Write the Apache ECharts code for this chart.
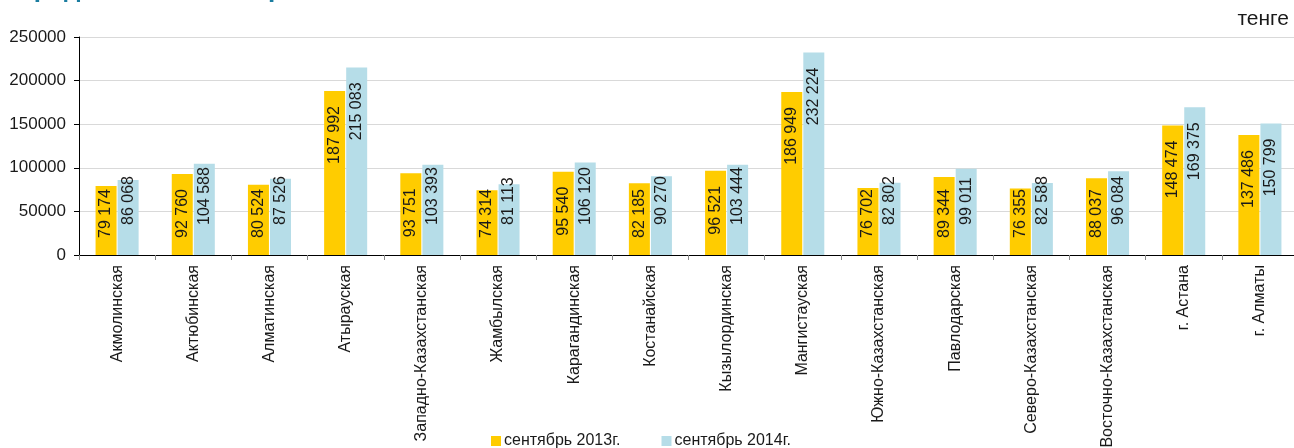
<!DOCTYPE html>
<html>
<head>
<meta charset="utf-8">
<script src="https://cdn.jsdelivr.net/npm/echarts@6/dist/echarts.min.js"></script>
<style>
html, body { margin: 0; padding: 0; background: #fff; }
#chart { width: 1294px; height: 448px; }
</style>
</head>
<body>
<div id="chart"></div>
<script>
var regions = ['Акмолинская', 'Актюбинская', 'Алматинская', 'Атырауская', 'Западно-Казахстанская',
    'Жамбылская', 'Карагандинская', 'Костанайская', 'Кызылординская', 'Мангистауская',
    'Южно-Казахстанская', 'Павлодарская', 'Северо-Казахстанская', 'Восточно-Казахстанская',
    'г. Астана', 'г. Алматы'];
var sep2013 = [79174, 92760, 80524, 187992, 93751, 74314, 95540, 82185, 96521, 186949,
    76702, 89344, 76355, 88037, 148474, 137486];
var sep2014 = [86068, 104588, 87526, 215083, 103393, 81113, 106120, 90270, 103444, 232224,
    82802, 99011, 82588, 96084, 169375, 150799];
var seriesNames = ['сентябрь 2013г.', 'сентябрь 2014г.'];
var yTicks = [0, 50000, 100000, 150000, 200000, 250000];

var FONT = '"Liberation Sans", Arial, sans-serif';

function fmt(v) {
    return String(v).replace(/\B(?=(\d{3})+(?!\d))/g, ' ');
}

var myChart = echarts.init(document.getElementById('chart'), null, {renderer: 'canvas'});

function barLabel() {
    return {
        show: true,
        position: 'insideTop',
        distance: 15,
        rotate: 90,
        align: 'right',
        verticalAlign: 'middle',
        color: '#1a1a1a',
        fontSize: 16,
        fontFamily: FONT,
        formatter: function (p) { return fmt(p.value); }
    };
}

var option = {
    animation: false,
    title: [
        {
            text: 'Среднемесячная заработная плата',
            left: 10,
            top: -28,
            textStyle: {color: '#1b7da0', fontSize: 26, fontWeight: 'bold', fontFamily: FONT}
        },
        {
            text: 'тенге',
            right: 0,
            top: 4,
            textStyle: {color: '#1a1a1a', fontSize: 21, fontWeight: 'normal', fontFamily: FONT}
        }
    ],
    legend: {
        data: seriesNames,
        left: 486,
        top: 428,
        itemWidth: 10,
        itemHeight: 10,
        itemGap: 41,
        icon: 'rect',
        textStyle: {color: '#1a1a1a', fontSize: 16, fontFamily: FONT, padding: [0, 0, 0, -2]}
    },
    grid: {
        left: 79,
        top: 37,
        width: 1219,
        height: 218,
        containLabel: false,
        outerBoundsMode: 'none'
    },
    xAxis: {
        type: 'category',
        data: regions,
        axisLine: {lineStyle: {color: '#000', width: 1}},
        axisTick: {show: true, length: 5, lineStyle: {color: '#888'}},
        axisLabel: {
            rotate: 90,
            margin: 10,
            interval: 0,
            color: '#1a1a1a',
            fontSize: 16,
            fontFamily: FONT
        }
    },
    yAxis: {
        type: 'value',
        min: yTicks[0],
        max: yTicks[yTicks.length - 1],
        interval: yTicks[1] - yTicks[0],
        axisLine: {show: true, lineStyle: {color: '#000', width: 1}},
        axisTick: {show: true, length: 5, lineStyle: {color: '#000'}},
        splitLine: {lineStyle: {color: '#d9d9d9', width: 1}},
        axisLabel: {
            margin: 13,
            color: '#1a1a1a',
            fontSize: 17,
            fontFamily: FONT,
            formatter: function (v) { return String(v); }
        }
    },
    series: [
        {
            name: seriesNames[0],
            type: 'bar',
            barWidth: 21,
            barGap: '5%',
            itemStyle: {color: '#ffcc00'},
            label: barLabel(),
            data: sep2013
        },
        {
            name: seriesNames[1],
            type: 'bar',
            barWidth: 21,
            barGap: '5%',
            itemStyle: {color: '#b6dde8'},
            label: barLabel(),
            data: sep2014
        }
    ]
};

myChart.setOption(option);

// labels sit near the top of a bar, but a short bar pins them near the base
var ctx = document.createElement('canvas').getContext('2d');
ctx.font = '16px ' + FONT;
var baseMargin = [17, 30];
[sep2013, sep2014].forEach(function (vals, s) {
    var items = vals.map(function (v, i) {
        var top = myChart.convertToPixel({gridIndex: 0}, [i, v])[1];
        var base = myChart.convertToPixel({gridIndex: 0}, [i, 0])[1];
        var len = ctx.measureText(fmt(v)).width;
        if (top + 15 + len > base - baseMargin[s]) {
            return {value: v, label: {position: 'insideBottom', distance: baseMargin[s], align: 'left', verticalAlign: 'middle'}};
        }
        return v;
    });
    option.series[s].data = items;
});
myChart.setOption(option);
window.onresize = myChart.resize;
</script>
</body>
</html>
